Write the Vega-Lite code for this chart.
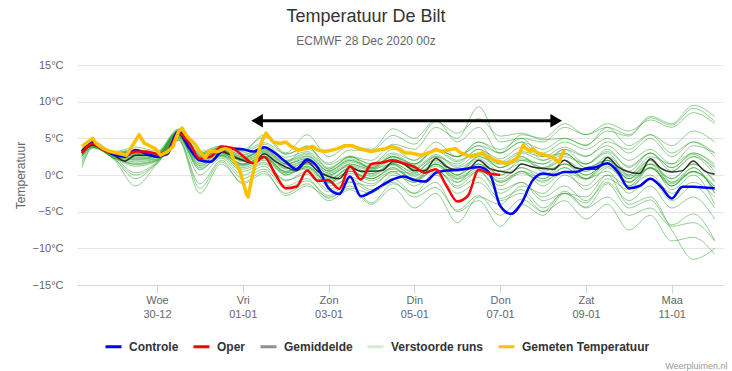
{
  "$schema": "https://vega.github.io/schema/vega-lite/v6.json",
  "width": 646,
  "height": 220,
  "autosize": {"type": "none"},
  "padding": {"left": 77, "top": 65, "right": 9, "bottom": 86},
  "background": "white",
  "title": {
    "text": "Temperatuur De Bilt",
    "subtitle": "ECMWF 28 Dec 2020 00z",
    "anchor": "middle",
    "dx": -34,
    "offset": 12,
    "fontSize": 18,
    "fontWeight": "normal",
    "color": "#333333",
    "subtitleFontSize": 12,
    "subtitleColor": "#666666",
    "subtitlePadding": 10
  },
  "config": {
    "view": {"stroke": null},
    "font": "Liberation Sans",
    "axisY": {"labelOverlap": false, "labelBound": false, "labelFlush": false}
  },
  "datasets": {
    "ens": [
      {"t":"2020-12-28T06:00","s":"Verstoorde runs","m1":3.5,"m2":2.7,"m3":3.2,"m4":2.8,"m5":3.8,"m6":1.4,"m7":3.3,"m8":2.5,"m9":3.6,"m10":2.2,"m11":3.1,"m12":2.9,"m13":3.0,"m14":3.4,"m15":3.2,"m16":1.8,"m17":3.0,"m18":2.6,"m19":3.5,"m20":2.8,"m21":3.3,"m22":1.0,"m23":3.4,"m24":2.7,"m25":3.1,"m26":3.3,"m27":2.5,"m28":3.0},
      {"t":"2020-12-28T12:00","s":"Verstoorde runs","m1":4.3,"m2":4.1,"m3":4.2,"m4":4.0,"m5":4.6,"m6":3.7,"m7":4.4,"m8":3.9,"m9":4.5,"m10":3.8,"m11":4.2,"m12":4.0,"m13":4.1,"m14":4.3,"m15":4.3,"m16":3.8,"m17":4.2,"m18":4.0,"m19":4.4,"m20":4.0,"m21":4.3,"m22":3.7,"m23":4.4,"m24":3.9,"m25":4.1,"m26":4.2,"m27":3.8,"m28":4.2},
      {"t":"2020-12-29T00:00","s":"Verstoorde runs","m1":3.0,"m2":2.5,"m3":2.9,"m4":2.5,"m5":3.2,"m6":2.2,"m7":2.8,"m8":2.4,"m9":3.1,"m10":2.3,"m11":2.8,"m12":2.6,"m13":2.7,"m14":2.9,"m15":3.0,"m16":2.2,"m17":2.8,"m18":2.5,"m19":3.0,"m20":2.6,"m21":2.9,"m22":2.1,"m23":3.0,"m24":2.4,"m25":2.7,"m26":2.8,"m27":2.3,"m28":2.7},
      {"t":"2020-12-29T12:00","s":"Verstoorde runs","m1":3.4,"m2":1.4,"m3":3.0,"m4":2.0,"m5":3.8,"m6":0.0,"m7":2.8,"m8":0.3,"m9":3.5,"m10":1.2,"m11":2.6,"m12":2.2,"m13":2.3,"m14":3.2,"m15":3.3,"m16":-0.5,"m17":2.7,"m18":1.8,"m19":3.2,"m20":2.1,"m21":3.0,"m22":-1.5,"m23":3.0,"m24":1.6,"m25":2.4,"m26":2.9,"m27":1.5,"m28":2.6},
      {"t":"2020-12-30T00:00","s":"Verstoorde runs","m1":3.0,"m2":2.0,"m3":2.8,"m4":2.2,"m5":3.3,"m6":1.6,"m7":2.6,"m8":1.8,"m9":3.0,"m10":1.9,"m11":2.6,"m12":2.4,"m13":2.5,"m14":2.9,"m15":3.1,"m16":1.7,"m17":2.7,"m18":2.2,"m19":2.9,"m20":2.4,"m21":2.8,"m22":1.5,"m23":2.7,"m24":2.1,"m25":2.5,"m26":2.7,"m27":2.0,"m28":2.6},
      {"t":"2020-12-30T12:00","s":"Verstoorde runs","m1":6.0,"m2":5.3,"m3":5.8,"m4":5.4,"m5":6.3,"m6":4.8,"m7":5.9,"m8":5.0,"m9":6.2,"m10":5.1,"m11":5.7,"m12":5.5,"m13":5.6,"m14":6.0,"m15":6.1,"m16":4.9,"m17":5.8,"m18":5.3,"m19":5.9,"m20":5.5,"m21":5.8,"m22":4.7,"m23":5.7,"m24":5.2,"m25":5.6,"m26":5.9,"m27":5.1,"m28":5.7},
      {"t":"2020-12-31T00:00","s":"Verstoorde runs","m1":3.0,"m2":0.7,"m3":2.6,"m4":1.5,"m5":3.2,"m6":-1.2,"m7":2.5,"m8":0.0,"m9":2.8,"m10":0.8,"m11":2.2,"m12":1.8,"m13":1.9,"m14":2.7,"m15":3.0,"m16":-1.8,"m17":2.3,"m18":1.3,"m19":2.8,"m20":1.6,"m21":2.4,"m22":-2.5,"m23":2.0,"m24":1.0,"m25":2.0,"m26":2.5,"m27":1.2,"m28":2.2},
      {"t":"2020-12-31T12:00","s":"Verstoorde runs","m1":3.7,"m2":2.7,"m3":3.5,"m4":2.9,"m5":4.0,"m6":2.0,"m7":3.3,"m8":2.3,"m9":3.8,"m10":2.6,"m11":3.2,"m12":3.0,"m13":3.1,"m14":3.6,"m15":3.9,"m16":1.8,"m17":3.4,"m18":2.8,"m19":3.6,"m20":3.0,"m21":3.4,"m22":1.5,"m23":3.3,"m24":2.5,"m25":3.2,"m26":3.5,"m27":2.7,"m28":3.3},
      {"t":"2021-01-01T00:00","s":"Verstoorde runs","m1":3.3,"m2":0.8,"m3":2.5,"m4":1.4,"m5":3.5,"m6":-0.5,"m7":2.2,"m8":0.0,"m9":3.0,"m10":1.0,"m11":2.0,"m12":1.5,"m13":1.5,"m14":2.7,"m15":3.2,"m16":-1.2,"m17":2.3,"m18":1.2,"m19":2.8,"m20":1.3,"m21":1.8,"m22":-1.0,"m23":2.3,"m24":0.5,"m25":1.9,"m26":2.5,"m27":1.5,"m28":2.1},
      {"t":"2021-01-01T12:00","s":"Verstoorde runs","m1":4.4,"m2":1.7,"m3":3.4,"m4":2.2,"m5":5.2,"m6":0.8,"m7":3.6,"m8":1.2,"m9":4.2,"m10":2.0,"m11":3.0,"m12":2.5,"m13":2.4,"m14":3.8,"m15":5.5,"m16":0.2,"m17":3.3,"m18":2.3,"m19":3.7,"m20":2.4,"m21":2.6,"m22":0.5,"m23":3.5,"m24":1.5,"m25":2.8,"m26":3.2,"m27":2.5,"m28":3.1},
      {"t":"2021-01-02T00:00","s":"Verstoorde runs","m1":2.9,"m2":-0.7,"m3":1.8,"m4":0.2,"m5":2.8,"m6":-1.8,"m7":1.6,"m8":-1.5,"m9":2.4,"m10":0.0,"m11":1.0,"m12":0.5,"m13":0.3,"m14":1.9,"m15":3.0,"m16":-2.5,"m17":1.4,"m18":0.0,"m19":2.0,"m20":0.4,"m21":0.8,"m22":-2.8,"m23":1.5,"m24":-0.8,"m25":0.9,"m26":1.5,"m27":0.5,"m28":1.2},
      {"t":"2021-01-02T12:00","s":"Verstoorde runs","m1":3.6,"m2":0.1,"m3":2.6,"m4":1.0,"m5":3.9,"m6":-0.8,"m7":4.0,"m8":-0.5,"m9":3.2,"m10":1.0,"m11":2.0,"m12":1.5,"m13":0.8,"m14":2.8,"m15":5.5,"m16":-1.2,"m17":2.3,"m18":1.2,"m19":3.0,"m20":1.5,"m21":1.8,"m22":-1.5,"m23":2.5,"m24":0.5,"m25":1.6,"m26":2.2,"m27":1.2,"m28":2.0},
      {"t":"2021-01-03T00:00","s":"Verstoorde runs","m1":1.6,"m2":-2.3,"m3":0.6,"m4":-1.2,"m5":1.4,"m6":-2.8,"m7":0.8,"m8":-3.2,"m9":1.0,"m10":-1.0,"m11":-0.2,"m12":-0.8,"m13":-1.5,"m14":0.5,"m15":2.5,"m16":-3.5,"m17":0.3,"m18":-1.0,"m19":0.8,"m20":-0.6,"m21":0.0,"m22":-3.0,"m23":0.5,"m24":-2.0,"m25":-0.5,"m26":0.2,"m27":-1.0,"m28":0.0},
      {"t":"2021-01-03T12:00","s":"Verstoorde runs","m1":3.4,"m2":-0.9,"m3":2.0,"m4":0.2,"m5":2.6,"m6":-1.0,"m7":2.5,"m8":-1.5,"m9":2.4,"m10":0.5,"m11":1.5,"m12":1.0,"m13":-0.5,"m14":2.0,"m15":4.0,"m16":-2.0,"m17":1.8,"m18":0.5,"m19":2.5,"m20":1.0,"m21":1.2,"m22":-1.8,"m23":2.2,"m24":-0.3,"m25":0.8,"m26":1.5,"m27":0.5,"m28":1.3},
      {"t":"2021-01-04T00:00","s":"Verstoorde runs","m1":3.3,"m2":-2.3,"m3":1.2,"m4":-0.5,"m5":0.8,"m6":-1.5,"m7":2.0,"m8":-3.8,"m9":1.5,"m10":-0.8,"m11":0.8,"m12":0.0,"m13":-2.0,"m14":1.0,"m15":3.5,"m16":-4.0,"m17":1.0,"m18":-0.5,"m19":1.5,"m20":-0.2,"m21":0.2,"m22":-2.5,"m23":1.0,"m24":-1.2,"m25":0.2,"m26":0.8,"m27":-0.5,"m28":0.6},
      {"t":"2021-01-04T12:00","s":"Verstoorde runs","m1":5.4,"m2":-1.0,"m3":2.5,"m4":0.8,"m5":1.5,"m6":0.5,"m7":4.2,"m8":-1.2,"m9":3.5,"m10":0.5,"m11":2.5,"m12":1.5,"m13":-0.5,"m14":2.5,"m15":6.3,"m16":-1.8,"m17":2.8,"m18":1.0,"m19":3.0,"m20":1.5,"m21":1.6,"m22":0.0,"m23":2.5,"m24":0.3,"m25":1.3,"m26":2.2,"m27":1.0,"m28":2.0},
      {"t":"2021-01-05T00:00","s":"Verstoorde runs","m1":4.2,"m2":-3.0,"m3":1.3,"m4":-0.6,"m5":-0.8,"m6":0.2,"m7":3.5,"m8":-2.5,"m9":2.0,"m10":-1.5,"m11":1.5,"m12":0.5,"m13":-2.5,"m14":0.8,"m15":5.0,"m16":-4.5,"m17":1.5,"m18":-0.5,"m19":2.0,"m20":-0.2,"m21":0.3,"m22":-1.0,"m23":1.5,"m24":-1.0,"m25":0.0,"m26":1.0,"m27":-0.8,"m28":0.8},
      {"t":"2021-01-05T12:00","s":"Verstoorde runs","m1":7.3,"m2":-1.7,"m3":3.3,"m4":1.2,"m5":0.8,"m6":2.5,"m7":6.5,"m8":0.5,"m9":4.5,"m10":0.0,"m11":3.5,"m12":2.0,"m13":-1.0,"m14":2.5,"m15":7.5,"m16":-2.5,"m17":3.5,"m18":1.5,"m19":3.5,"m20":1.8,"m21":2.2,"m22":1.5,"m23":3.5,"m24":0.8,"m25":1.5,"m26":2.8,"m27":1.5,"m28":2.6},
      {"t":"2021-01-06T00:00","s":"Verstoorde runs","m1":5.7,"m2":-4.8,"m3":1.8,"m4":-0.6,"m5":-1.8,"m6":1.5,"m7":5.0,"m8":-1.0,"m9":2.5,"m10":-2.5,"m11":2.5,"m12":0.5,"m13":-5.0,"m14":0.0,"m15":4.5,"m16":-6.5,"m17":2.0,"m18":-1.0,"m19":2.5,"m20":0.0,"m21":0.5,"m22":-0.5,"m23":2.5,"m24":-1.5,"m25":-0.3,"m26":1.2,"m27":0.0,"m28":1.0},
      {"t":"2021-01-06T12:00","s":"Verstoorde runs","m1":7.7,"m2":-2.8,"m3":3.5,"m4":0.7,"m5":-0.3,"m6":3.5,"m7":9.3,"m8":1.5,"m9":4.0,"m10":-1.0,"m11":4.5,"m12":2.0,"m13":-3.5,"m14":1.5,"m15":6.5,"m16":-3.0,"m17":3.0,"m18":0.5,"m19":4.5,"m20":1.5,"m21":2.5,"m22":1.0,"m23":4.0,"m24":0.5,"m25":1.0,"m26":2.8,"m27":2.5,"m28":2.2},
      {"t":"2021-01-07T00:00","s":"Verstoorde runs","m1":5.3,"m2":-5.5,"m3":1.8,"m4":-1.0,"m5":-3.2,"m6":2.2,"m7":4.5,"m8":0.0,"m9":1.5,"m10":-3.5,"m11":3.5,"m12":0.0,"m13":-7.0,"m14":-0.5,"m15":3.0,"m16":-4.0,"m17":1.0,"m18":-2.0,"m19":3.0,"m20":-1.0,"m21":1.0,"m22":-1.5,"m23":3.0,"m24":-2.5,"m25":-0.8,"m26":1.0,"m27":1.5,"m28":0.5},
      {"t":"2021-01-07T12:00","s":"Verstoorde runs","m1":5.7,"m2":-3.3,"m3":3.2,"m4":0.2,"m5":-2.0,"m6":3.8,"m7":5.0,"m8":2.0,"m9":2.5,"m10":-2.5,"m11":5.0,"m12":1.0,"m13":-4.0,"m14":1.0,"m15":4.5,"m16":-1.5,"m17":2.0,"m18":-1.0,"m19":4.5,"m20":0.5,"m21":2.5,"m22":0.5,"m23":5.5,"m24":-1.0,"m25":0.5,"m26":2.2,"m27":3.0,"m28":1.5},
      {"t":"2021-01-08T00:00","s":"Verstoorde runs","m1":4.8,"m2":-5.0,"m3":2.5,"m4":-0.8,"m5":-4.5,"m6":3.0,"m7":2.5,"m8":1.0,"m9":0.5,"m10":-5.0,"m11":4.5,"m12":0.0,"m13":-5.5,"m14":-0.5,"m15":2.0,"m16":-2.5,"m17":1.5,"m18":-3.5,"m19":3.5,"m20":-1.5,"m21":1.0,"m22":-1.0,"m23":5.0,"m24":-3.0,"m25":-0.5,"m26":1.5,"m27":2.0,"m28":0.8},
      {"t":"2021-01-08T12:00","s":"Verstoorde runs","m1":5.0,"m2":-2.2,"m3":3.8,"m4":0.5,"m5":-2.5,"m6":4.5,"m7":3.0,"m8":2.5,"m9":1.5,"m10":-3.5,"m11":6.5,"m12":1.5,"m13":-2.5,"m14":1.5,"m15":3.5,"m16":0.0,"m17":3.5,"m18":-2.5,"m19":5.0,"m20":0.5,"m21":2.0,"m22":1.0,"m23":7.0,"m24":-1.5,"m25":1.0,"m26":2.8,"m27":3.0,"m28":2.0},
      {"t":"2021-01-09T00:00","s":"Verstoorde runs","m1":4.1,"m2":-4.4,"m3":2.6,"m4":-0.6,"m5":-3.8,"m6":3.5,"m7":1.0,"m8":1.5,"m9":-0.5,"m10":-6.0,"m11":5.5,"m12":0.5,"m13":-3.0,"m14":0.0,"m15":1.5,"m16":-1.5,"m17":2.5,"m18":-4.5,"m19":4.0,"m20":-2.0,"m21":0.0,"m22":-0.5,"m23":5.5,"m24":-3.5,"m25":-0.5,"m26":1.5,"m27":1.0,"m28":0.5},
      {"t":"2021-01-09T12:00","s":"Verstoorde runs","m1":6.0,"m2":-1.2,"m3":4.0,"m4":1.2,"m5":-0.5,"m6":5.0,"m7":2.0,"m8":3.5,"m9":0.5,"m10":-4.0,"m11":7.0,"m12":2.5,"m13":0.0,"m14":1.5,"m15":3.0,"m16":1.0,"m17":4.5,"m18":-3.0,"m19":6.5,"m20":0.0,"m21":1.5,"m22":2.0,"m23":6.5,"m24":-1.0,"m25":1.5,"m26":3.2,"m27":2.0,"m28":2.0},
      {"t":"2021-01-10T00:00","s":"Verstoorde runs","m1":5.3,"m2":-4.5,"m3":2.0,"m4":-1.0,"m5":-2.0,"m6":3.0,"m7":-0.5,"m8":1.0,"m9":-2.5,"m10":-7.5,"m11":6.0,"m12":0.5,"m13":-1.5,"m14":-1.5,"m15":0.0,"m16":-1.0,"m17":3.5,"m18":-5.5,"m19":5.5,"m20":-4.0,"m21":-0.5,"m22":-0.5,"m23":4.0,"m24":-3.5,"m25":-1.0,"m26":1.2,"m27":0.0,"m28":-0.2},
      {"t":"2021-01-10T12:00","s":"Verstoorde runs","m1":7.8,"m2":-3.4,"m3":3.5,"m4":0.9,"m5":1.0,"m6":5.0,"m7":1.0,"m8":3.0,"m9":-0.5,"m10":-5.5,"m11":7.5,"m12":3.0,"m13":1.0,"m14":0.0,"m15":2.0,"m16":1.5,"m17":5.5,"m18":-4.5,"m19":8.0,"m20":-3.0,"m21":1.5,"m22":2.0,"m23":5.5,"m24":-1.5,"m25":1.0,"m26":3.0,"m27":2.5,"m28":1.5},
      {"t":"2021-01-11T00:00","s":"Verstoorde runs","m1":6.8,"m2":-6.8,"m3":1.5,"m4":-1.2,"m5":-0.5,"m6":2.5,"m7":-1.5,"m8":0.5,"m9":-3.5,"m10":-9.0,"m11":6.5,"m12":1.0,"m13":-1.0,"m14":-2.5,"m15":-1.0,"m16":-2.0,"m17":4.0,"m18":-7.0,"m19":7.0,"m20":-7.5,"m21":0.5,"m22":-1.5,"m23":3.0,"m24":-4.5,"m25":-1.5,"m26":1.0,"m27":1.5,"m28":-0.5},
      {"t":"2021-01-11T12:00","s":"Verstoorde runs","m1":9.1,"m2":-5.3,"m3":3.0,"m4":0.4,"m5":1.5,"m6":4.5,"m7":0.5,"m8":2.5,"m9":-1.5,"m10":-8.5,"m11":8.5,"m12":3.0,"m13":0.5,"m14":-1.0,"m15":1.0,"m16":0.0,"m17":6.0,"m18":-6.5,"m19":9.5,"m20":-11.5,"m21":2.5,"m22":1.0,"m23":4.5,"m24":-3.0,"m25":0.5,"m26":2.8,"m27":4.0,"m28":1.5},
      {"t":"2021-01-12T00:00","s":"Verstoorde runs","m1":7.3,"m2":-8.9,"m3":1.2,"m4":-1.6,"m5":-1.0,"m6":3.0,"m7":-2.0,"m8":0.0,"m9":-4.5,"m10":-10.8,"m11":7.0,"m12":1.5,"m13":-2.0,"m14":-3.0,"m15":-2.5,"m16":-4.0,"m17":4.5,"m18":-9.0,"m19":8.0,"m20":-10.0,"m21":1.0,"m22":-2.5,"m23":2.5,"m24":-6.0,"m25":-1.5,"m26":0.5,"m27":3.0,"m28":-0.8}
    ],
    "main": [
      {"s":"Controle","t":"2020-12-28T06:00","v":3.2},{"s":"Controle","t":"2020-12-28T12:00","v":4.5},{"s":"Controle","t":"2020-12-28T18:00","v":3.6},
      {"s":"Controle","t":"2020-12-29T00:00","v":2.8},{"s":"Controle","t":"2020-12-29T06:00","v":2.5},{"s":"Controle","t":"2020-12-29T12:00","v":3.4},{"s":"Controle","t":"2020-12-29T18:00","v":2.9},
      {"s":"Controle","t":"2020-12-30T00:00","v":2.5},{"s":"Controle","t":"2020-12-30T06:00","v":3.2},{"s":"Controle","t":"2020-12-30T12:00","v":6.0},{"s":"Controle","t":"2020-12-30T18:00","v":3.7},
      {"s":"Controle","t":"2020-12-31T00:00","v":2.0},{"s":"Controle","t":"2020-12-31T06:00","v":1.8},{"s":"Controle","t":"2020-12-31T12:00","v":3.2},{"s":"Controle","t":"2020-12-31T18:00","v":3.6},
      {"s":"Controle","t":"2021-01-01T00:00","v":3.5},{"s":"Controle","t":"2021-01-01T06:00","v":3.2},{"s":"Controle","t":"2021-01-01T12:00","v":3.8},{"s":"Controle","t":"2021-01-01T18:00","v":3.0},
      {"s":"Controle","t":"2021-01-02T00:00","v":1.8},{"s":"Controle","t":"2021-01-02T06:00","v":0.8},{"s":"Controle","t":"2021-01-02T12:00","v":2.1},{"s":"Controle","t":"2021-01-02T18:00","v":1.0},
      {"s":"Controle","t":"2021-01-03T00:00","v":-1.8},{"s":"Controle","t":"2021-01-03T06:00","v":-2.6},{"s":"Controle","t":"2021-01-03T12:00","v":-0.2},{"s":"Controle","t":"2021-01-03T18:00","v":-2.9},
      {"s":"Controle","t":"2021-01-04T00:00","v":-2.3},{"s":"Controle","t":"2021-01-04T06:00","v":-1.4},{"s":"Controle","t":"2021-01-04T12:00","v":-0.6},{"s":"Controle","t":"2021-01-04T18:00","v":-0.2},
      {"s":"Controle","t":"2021-01-05T00:00","v":-0.7},{"s":"Controle","t":"2021-01-05T06:00","v":-0.9},{"s":"Controle","t":"2021-01-05T12:00","v":0.3},{"s":"Controle","t":"2021-01-05T18:00","v":0.6},
      {"s":"Controle","t":"2021-01-06T00:00","v":0.7},{"s":"Controle","t":"2021-01-06T06:00","v":0.9},{"s":"Controle","t":"2021-01-06T12:00","v":1.1},{"s":"Controle","t":"2021-01-06T18:00","v":0.3},
      {"s":"Controle","t":"2021-01-07T00:00","v":-4.2},{"s":"Controle","t":"2021-01-07T06:00","v":-5.3},{"s":"Controle","t":"2021-01-07T12:00","v":-3.8},{"s":"Controle","t":"2021-01-07T18:00","v":-0.8},
      {"s":"Controle","t":"2021-01-08T00:00","v":0.2},{"s":"Controle","t":"2021-01-08T06:00","v":0.0},{"s":"Controle","t":"2021-01-08T12:00","v":0.4},{"s":"Controle","t":"2021-01-08T18:00","v":0.4},
      {"s":"Controle","t":"2021-01-09T00:00","v":0.9},{"s":"Controle","t":"2021-01-09T06:00","v":1.1},{"s":"Controle","t":"2021-01-09T12:00","v":1.6},{"s":"Controle","t":"2021-01-09T18:00","v":0.4},
      {"s":"Controle","t":"2021-01-10T00:00","v":-1.8},{"s":"Controle","t":"2021-01-10T06:00","v":-1.5},{"s":"Controle","t":"2021-01-10T12:00","v":-0.5},{"s":"Controle","t":"2021-01-10T18:00","v":-1.6},
      {"s":"Controle","t":"2021-01-11T00:00","v":-3.2},{"s":"Controle","t":"2021-01-11T06:00","v":-1.6},{"s":"Controle","t":"2021-01-11T12:00","v":-1.6},{"s":"Controle","t":"2021-01-11T18:00","v":-1.7},
      {"s":"Controle","t":"2021-01-12T00:00","v":-1.8},

      {"s":"Oper","t":"2020-12-28T06:00","v":3.0},{"s":"Oper","t":"2020-12-28T12:00","v":4.3},{"s":"Oper","t":"2020-12-28T18:00","v":3.4},
      {"s":"Oper","t":"2020-12-29T00:00","v":3.0},{"s":"Oper","t":"2020-12-29T06:00","v":2.7},{"s":"Oper","t":"2020-12-29T12:00","v":3.2},{"s":"Oper","t":"2020-12-29T18:00","v":3.2},
      {"s":"Oper","t":"2020-12-30T00:00","v":2.9},{"s":"Oper","t":"2020-12-30T06:00","v":3.2},{"s":"Oper","t":"2020-12-30T12:00","v":5.7},{"s":"Oper","t":"2020-12-30T18:00","v":4.4},
      {"s":"Oper","t":"2020-12-31T00:00","v":2.2},{"s":"Oper","t":"2020-12-31T06:00","v":2.5},{"s":"Oper","t":"2020-12-31T12:00","v":3.9},{"s":"Oper","t":"2020-12-31T18:00","v":3.7},
      {"s":"Oper","t":"2021-01-01T00:00","v":2.6},{"s":"Oper","t":"2021-01-01T06:00","v":1.6},{"s":"Oper","t":"2021-01-01T12:00","v":2.5},{"s":"Oper","t":"2021-01-01T18:00","v":0.2},
      {"s":"Oper","t":"2021-01-02T00:00","v":-1.8},{"s":"Oper","t":"2021-01-02T06:00","v":-1.6},{"s":"Oper","t":"2021-01-02T12:00","v":0.6},{"s":"Oper","t":"2021-01-02T18:00","v":-0.8},
      {"s":"Oper","t":"2021-01-03T00:00","v":-0.7},{"s":"Oper","t":"2021-01-03T06:00","v":-1.9},{"s":"Oper","t":"2021-01-03T12:00","v":1.2},{"s":"Oper","t":"2021-01-03T18:00","v":-0.6},
      {"s":"Oper","t":"2021-01-04T00:00","v":1.5},{"s":"Oper","t":"2021-01-04T06:00","v":1.7},{"s":"Oper","t":"2021-01-04T12:00","v":2.0},{"s":"Oper","t":"2021-01-04T18:00","v":1.6},
      {"s":"Oper","t":"2021-01-05T00:00","v":1.1},{"s":"Oper","t":"2021-01-05T06:00","v":0.3},{"s":"Oper","t":"2021-01-05T12:00","v":0.8},{"s":"Oper","t":"2021-01-05T18:00","v":-1.5},
      {"s":"Oper","t":"2021-01-06T00:00","v":-3.6},{"s":"Oper","t":"2021-01-06T06:00","v":-2.8},{"s":"Oper","t":"2021-01-06T12:00","v":0.7},{"s":"Oper","t":"2021-01-06T18:00","v":0.2},
      {"s":"Oper","t":"2021-01-07T00:00","v":0.0},

      {"s":"Gemiddelde","t":"2020-12-28T06:00","v":3.0},{"s":"Gemiddelde","t":"2020-12-28T12:00","v":4.1},{"s":"Gemiddelde","t":"2020-12-28T18:00","v":3.4},
      {"s":"Gemiddelde","t":"2020-12-29T00:00","v":2.7},{"s":"Gemiddelde","t":"2020-12-29T06:00","v":1.9},{"s":"Gemiddelde","t":"2020-12-29T12:00","v":2.7},{"s":"Gemiddelde","t":"2020-12-29T18:00","v":2.7},
      {"s":"Gemiddelde","t":"2020-12-30T00:00","v":2.5},{"s":"Gemiddelde","t":"2020-12-30T06:00","v":2.8},{"s":"Gemiddelde","t":"2020-12-30T12:00","v":5.6},{"s":"Gemiddelde","t":"2020-12-30T18:00","v":3.6},
      {"s":"Gemiddelde","t":"2020-12-31T00:00","v":2.1},{"s":"Gemiddelde","t":"2020-12-31T06:00","v":1.8},{"s":"Gemiddelde","t":"2020-12-31T12:00","v":3.2},{"s":"Gemiddelde","t":"2020-12-31T18:00","v":2.6},
      {"s":"Gemiddelde","t":"2021-01-01T00:00","v":2.0},{"s":"Gemiddelde","t":"2021-01-01T06:00","v":1.6},{"s":"Gemiddelde","t":"2021-01-01T12:00","v":2.9},{"s":"Gemiddelde","t":"2021-01-01T18:00","v":1.9},
      {"s":"Gemiddelde","t":"2021-01-02T00:00","v":1.1},{"s":"Gemiddelde","t":"2021-01-02T06:00","v":0.6},{"s":"Gemiddelde","t":"2021-01-02T12:00","v":1.8},{"s":"Gemiddelde","t":"2021-01-02T18:00","v":0.5},
      {"s":"Gemiddelde","t":"2021-01-03T00:00","v":-0.2},{"s":"Gemiddelde","t":"2021-01-03T06:00","v":-0.5},{"s":"Gemiddelde","t":"2021-01-03T12:00","v":1.1},{"s":"Gemiddelde","t":"2021-01-03T18:00","v":0.5},
      {"s":"Gemiddelde","t":"2021-01-04T00:00","v":0.5},{"s":"Gemiddelde","t":"2021-01-04T06:00","v":0.6},{"s":"Gemiddelde","t":"2021-01-04T12:00","v":1.8},{"s":"Gemiddelde","t":"2021-01-04T18:00","v":1.5},
      {"s":"Gemiddelde","t":"2021-01-05T00:00","v":0.6},{"s":"Gemiddelde","t":"2021-01-05T06:00","v":0.6},{"s":"Gemiddelde","t":"2021-01-05T12:00","v":2.3},{"s":"Gemiddelde","t":"2021-01-05T18:00","v":1.1},
      {"s":"Gemiddelde","t":"2021-01-06T00:00","v":0.7},{"s":"Gemiddelde","t":"2021-01-06T06:00","v":0.8},{"s":"Gemiddelde","t":"2021-01-06T12:00","v":2.0},{"s":"Gemiddelde","t":"2021-01-06T18:00","v":0.9},
      {"s":"Gemiddelde","t":"2021-01-07T00:00","v":0.5},{"s":"Gemiddelde","t":"2021-01-07T06:00","v":0.3},{"s":"Gemiddelde","t":"2021-01-07T12:00","v":1.5},{"s":"Gemiddelde","t":"2021-01-07T18:00","v":1.1},
      {"s":"Gemiddelde","t":"2021-01-08T00:00","v":0.9},{"s":"Gemiddelde","t":"2021-01-08T06:00","v":0.8},{"s":"Gemiddelde","t":"2021-01-08T12:00","v":2.0},{"s":"Gemiddelde","t":"2021-01-08T18:00","v":1.0},
      {"s":"Gemiddelde","t":"2021-01-09T00:00","v":0.8},{"s":"Gemiddelde","t":"2021-01-09T06:00","v":0.8},{"s":"Gemiddelde","t":"2021-01-09T12:00","v":2.4},{"s":"Gemiddelde","t":"2021-01-09T18:00","v":1.1},
      {"s":"Gemiddelde","t":"2021-01-10T00:00","v":0.4},{"s":"Gemiddelde","t":"2021-01-10T06:00","v":0.2},{"s":"Gemiddelde","t":"2021-01-10T12:00","v":2.2},{"s":"Gemiddelde","t":"2021-01-10T18:00","v":0.9},
      {"s":"Gemiddelde","t":"2021-01-11T00:00","v":0.4},{"s":"Gemiddelde","t":"2021-01-11T06:00","v":0.6},{"s":"Gemiddelde","t":"2021-01-11T12:00","v":1.9},{"s":"Gemiddelde","t":"2021-01-11T18:00","v":0.6},
      {"s":"Gemiddelde","t":"2021-01-12T00:00","v":0.1},

      {"s":"Gemeten Temperatuur","t":"2020-12-28T06:00","v":3.9},{"s":"Gemeten Temperatuur","t":"2020-12-28T12:00","v":5.0},{"s":"Gemeten Temperatuur","t":"2020-12-28T14:00","v":4.3},{"s":"Gemeten Temperatuur","t":"2020-12-28T18:00","v":3.6},{"s":"Gemeten Temperatuur","t":"2020-12-28T22:00","v":3.2},
      {"s":"Gemeten Temperatuur","t":"2020-12-29T02:00","v":3.0},{"s":"Gemeten Temperatuur","t":"2020-12-29T07:00","v":2.7},{"s":"Gemeten Temperatuur","t":"2020-12-29T10:00","v":3.9},{"s":"Gemeten Temperatuur","t":"2020-12-29T14:00","v":5.5},{"s":"Gemeten Temperatuur","t":"2020-12-29T17:00","v":4.3},{"s":"Gemeten Temperatuur","t":"2020-12-29T19:00","v":4.1},{"s":"Gemeten Temperatuur","t":"2020-12-29T23:00","v":3.6},
      {"s":"Gemeten Temperatuur","t":"2020-12-30T02:00","v":2.7},{"s":"Gemeten Temperatuur","t":"2020-12-30T06:00","v":3.2},{"s":"Gemeten Temperatuur","t":"2020-12-30T09:00","v":3.9},{"s":"Gemeten Temperatuur","t":"2020-12-30T12:00","v":5.9},{"s":"Gemeten Temperatuur","t":"2020-12-30T14:00","v":6.4},{"s":"Gemeten Temperatuur","t":"2020-12-30T17:00","v":5.2},{"s":"Gemeten Temperatuur","t":"2020-12-30T21:00","v":4.3},
      {"s":"Gemeten Temperatuur","t":"2020-12-31T00:00","v":3.2},{"s":"Gemeten Temperatuur","t":"2020-12-31T03:00","v":2.3},{"s":"Gemeten Temperatuur","t":"2020-12-31T05:00","v":3.2},{"s":"Gemeten Temperatuur","t":"2020-12-31T10:00","v":3.2},{"s":"Gemeten Temperatuur","t":"2020-12-31T14:00","v":3.6},{"s":"Gemeten Temperatuur","t":"2020-12-31T17:00","v":3.4},{"s":"Gemeten Temperatuur","t":"2020-12-31T19:00","v":2.0},{"s":"Gemeten Temperatuur","t":"2020-12-31T22:00","v":0.8},
      {"s":"Gemeten Temperatuur","t":"2021-01-01T00:00","v":-0.8},{"s":"Gemeten Temperatuur","t":"2021-01-01T02:00","v":-2.6},{"s":"Gemeten Temperatuur","t":"2021-01-01T03:00","v":-3.0},{"s":"Gemeten Temperatuur","t":"2021-01-01T05:00","v":-0.5},{"s":"Gemeten Temperatuur","t":"2021-01-01T08:00","v":2.5},{"s":"Gemeten Temperatuur","t":"2021-01-01T11:00","v":4.8},{"s":"Gemeten Temperatuur","t":"2021-01-01T13:00","v":5.7},{"s":"Gemeten Temperatuur","t":"2021-01-01T17:00","v":4.5},{"s":"Gemeten Temperatuur","t":"2021-01-01T21:00","v":4.3},
      {"s":"Gemeten Temperatuur","t":"2021-01-02T00:00","v":4.5},{"s":"Gemeten Temperatuur","t":"2021-01-02T03:00","v":3.9},{"s":"Gemeten Temperatuur","t":"2021-01-02T07:00","v":3.4},{"s":"Gemeten Temperatuur","t":"2021-01-02T11:00","v":3.6},{"s":"Gemeten Temperatuur","t":"2021-01-02T15:00","v":3.9},{"s":"Gemeten Temperatuur","t":"2021-01-02T18:00","v":3.4},{"s":"Gemeten Temperatuur","t":"2021-01-02T22:00","v":3.2},
      {"s":"Gemeten Temperatuur","t":"2021-01-03T02:00","v":3.4},{"s":"Gemeten Temperatuur","t":"2021-01-03T05:00","v":3.6},{"s":"Gemeten Temperatuur","t":"2021-01-03T09:00","v":4.0},{"s":"Gemeten Temperatuur","t":"2021-01-03T13:00","v":4.0},{"s":"Gemeten Temperatuur","t":"2021-01-03T17:00","v":3.6},{"s":"Gemeten Temperatuur","t":"2021-01-03T20:00","v":3.4},
      {"s":"Gemeten Temperatuur","t":"2021-01-04T00:00","v":3.2},{"s":"Gemeten Temperatuur","t":"2021-01-04T04:00","v":3.4},{"s":"Gemeten Temperatuur","t":"2021-01-04T08:00","v":3.6},{"s":"Gemeten Temperatuur","t":"2021-01-04T11:00","v":3.9},{"s":"Gemeten Temperatuur","t":"2021-01-04T15:00","v":3.6},{"s":"Gemeten Temperatuur","t":"2021-01-04T19:00","v":3.0},{"s":"Gemeten Temperatuur","t":"2021-01-04T22:00","v":3.0},
      {"s":"Gemeten Temperatuur","t":"2021-01-05T04:00","v":2.7},{"s":"Gemeten Temperatuur","t":"2021-01-05T10:00","v":3.2},{"s":"Gemeten Temperatuur","t":"2021-01-05T12:00","v":3.5},{"s":"Gemeten Temperatuur","t":"2021-01-05T15:00","v":3.2},{"s":"Gemeten Temperatuur","t":"2021-01-05T19:00","v":3.4},{"s":"Gemeten Temperatuur","t":"2021-01-05T23:00","v":3.6},
      {"s":"Gemeten Temperatuur","t":"2021-01-06T02:00","v":3.0},{"s":"Gemeten Temperatuur","t":"2021-01-06T08:00","v":2.5},{"s":"Gemeten Temperatuur","t":"2021-01-06T14:00","v":3.0},{"s":"Gemeten Temperatuur","t":"2021-01-06T17:00","v":2.5},{"s":"Gemeten Temperatuur","t":"2021-01-06T21:00","v":2.0},
      {"s":"Gemeten Temperatuur","t":"2021-01-07T03:00","v":1.6},{"s":"Gemeten Temperatuur","t":"2021-01-07T07:00","v":1.8},{"s":"Gemeten Temperatuur","t":"2021-01-07T10:00","v":2.5},{"s":"Gemeten Temperatuur","t":"2021-01-07T13:00","v":4.1},{"s":"Gemeten Temperatuur","t":"2021-01-07T14:00","v":3.7},{"s":"Gemeten Temperatuur","t":"2021-01-07T17:00","v":3.2},{"s":"Gemeten Temperatuur","t":"2021-01-07T18:00","v":3.6},{"s":"Gemeten Temperatuur","t":"2021-01-07T21:00","v":3.0},
      {"s":"Gemeten Temperatuur","t":"2021-01-08T01:00","v":2.7},{"s":"Gemeten Temperatuur","t":"2021-01-08T05:00","v":2.5},{"s":"Gemeten Temperatuur","t":"2021-01-08T09:00","v":1.7},{"s":"Gemeten Temperatuur","t":"2021-01-08T10:00","v":2.5},{"s":"Gemeten Temperatuur","t":"2021-01-08T12:00","v":3.4}
    ],
    "arrow": [
      {"t1":"2021-01-01T08:00","t2":"2021-01-08T07:20","v":7.4}
    ]
  },
  "encoding": {
    "y": {
      "field": "v", "type": "quantitative", "title": "Temperatuur",
      "scale": {"domain": [-15, 15], "nice": false},
      "axis": {
        "values": [-15, -10, -5, 0, 5, 10, 15],
        "tickCount": 7,
        "labelExpr": "format(datum.value, 'd') + '°C'",
        "labelOverlap": false,
        "grid": true,
        "gridColor": "#e6e6e6",
        "domain": false,
        "ticks": false,
        "labelPadding": 14,
        "labelColor": "#666666",
        "labelFontSize": 11,
        "titleColor": "#666666",
        "titleFontSize": 12,
        "titleFontWeight": "normal",
        "titlePadding": 4
      }
    }
  },
  "layer": [
    {
      "data": {"name": "ens"},
      "transform": [
        {"fold": ["m1","m2","m3","m4","m5","m6","m7","m8","m9","m10","m11","m12","m13","m14","m15","m16","m17","m18","m19","m20","m21","m22","m23","m24","m25","m26","m27","m28"], "as": ["m","v"]}
      ],
      "mark": {"type": "line", "interpolate": "monotone", "strokeWidth": 1},
      "encoding": {
        "x": {
          "field": "t", "type": "temporal", "title": "Weerpluimen.nl",
          "scale": {"domain": [{"year": 2020, "month": 12, "date": 28, "hours": 3, "minutes": 15}, {"year": 2021, "month": 1, "date": 12, "hours": 4, "minutes": 40}]},
          "axis": {
            "values": [
              {"year": 2020, "month": 12, "date": 30},
              {"year": 2021, "month": 1, "date": 1},
              {"year": 2021, "month": 1, "date": 3},
              {"year": 2021, "month": 1, "date": 5},
              {"year": 2021, "month": 1, "date": 7},
              {"year": 2021, "month": 1, "date": 9},
              {"year": 2021, "month": 1, "date": 11}
            ],
            "labelExpr": "[['Zon','Maa','Din','Woe','Don','Vri','Zat'][day(datum.value)], timeFormat(datum.value, '%d-%m')]",
            "grid": false,
            "domainColor": "#ccd6eb",
            "tickColor": "#ccd6eb",
            "tickSize": 8,
            "labelPadding": 1,
            "labelColor": "#666666",
            "labelFontSize": 11,
            "labelLineHeight": 14,
            "labelBaseline": "top",
            "labelOverlap": false,
            "titleX": 650,
            "titleAlign": "right",
            "titleFontSize": 9,
            "titleFontWeight": "normal",
            "titleColor": "#999999",
            "titlePadding": 42
          }
        },
        "color": {
          "field": "s", "type": "nominal",
          "scale": {
            "domain": ["Controle", "Oper", "Gemiddelde", "Verstoorde runs", "Gemeten Temperatuur"],
            "range": ["#0000ff", "#ff0000", "rgba(20,20,20,0.85)", "rgba(40,160,40,0.5)", "#ffc000"]
          },
          "legend": {
            "orient": "none",
            "legendX": 27,
            "legendY": 272,
            "direction": "horizontal",
            "title": null,
            "symbolType": "stroke",
            "symbolSize": 256,
            "symbolStrokeWidth": 3,
            "symbolOpacity": 1,
            "labelFontSize": 12,
            "labelFontWeight": "bold",
            "labelColor": "#333333",
            "labelOffset": 6,
            "columnPadding": 8,
            "encode": {"symbols": {"update": {"opacity": {"signal": "datum.label === 'Verstoorde runs' ? 0.4 : datum.label === 'Gemiddelde' ? 0.55 : 1"}}}}
          }
        },
        "detail": {"field": "m"}
      }
    },
    {
      "data": {"values": [{}]},
      "mark": {"type": "rule", "color": "#666666", "strokeWidth": 1.5},
      "encoding": {"y": {"datum": 0, "type": "quantitative"}}
    },
    {
      "data": {"name": "main"},
      "transform": [{"filter": {"field": "s", "equal": "Gemiddelde"}}],
      "mark": {"type": "line", "interpolate": "monotone", "strokeWidth": 1.5},
      "encoding": {
        "x": {"field": "t", "type": "temporal", "title": "Weerpluimen.nl"},
        "color": {"field": "s", "type": "nominal"}
      }
    },
    {
      "data": {"name": "main"},
      "transform": [{"filter": {"field": "s", "equal": "Controle"}}],
      "mark": {"type": "line", "interpolate": "monotone", "strokeWidth": 2.5},
      "encoding": {
        "x": {"field": "t", "type": "temporal", "title": "Weerpluimen.nl"},
        "color": {"field": "s", "type": "nominal"}
      }
    },
    {
      "data": {"name": "main"},
      "transform": [{"filter": {"field": "s", "equal": "Oper"}}],
      "mark": {"type": "line", "interpolate": "monotone", "strokeWidth": 2.5},
      "encoding": {
        "x": {"field": "t", "type": "temporal", "title": "Weerpluimen.nl"},
        "color": {"field": "s", "type": "nominal"}
      }
    },
    {
      "data": {"name": "main"},
      "transform": [{"filter": {"field": "s", "equal": "Gemeten Temperatuur"}}],
      "mark": {"type": "line", "strokeWidth": 3.5, "strokeJoin": "round"},
      "encoding": {
        "x": {"field": "t", "type": "temporal", "title": "Weerpluimen.nl"},
        "color": {"field": "s", "type": "nominal"}
      }
    },
    {
      "data": {"name": "arrow"},
      "mark": {"type": "rule", "color": "#000000", "strokeWidth": 3},
      "encoding": {
        "x": {"field": "t1", "type": "temporal", "title": "Weerpluimen.nl"},
        "x2": {"field": "t2"}
      }
    },
    {
      "data": {"name": "arrow"},
      "mark": {"type": "point", "shape": "triangle-left", "filled": true, "size": 180, "color": "#000000", "opacity": 1},
      "encoding": {
        "x": {"field": "t1", "type": "temporal", "title": "Weerpluimen.nl"}
      }
    },
    {
      "data": {"name": "arrow"},
      "mark": {"type": "point", "shape": "triangle-right", "filled": true, "size": 180, "color": "#000000", "opacity": 1},
      "encoding": {
        "x": {"field": "t2", "type": "temporal", "title": "Weerpluimen.nl"}
      }
    }
  ]
}
